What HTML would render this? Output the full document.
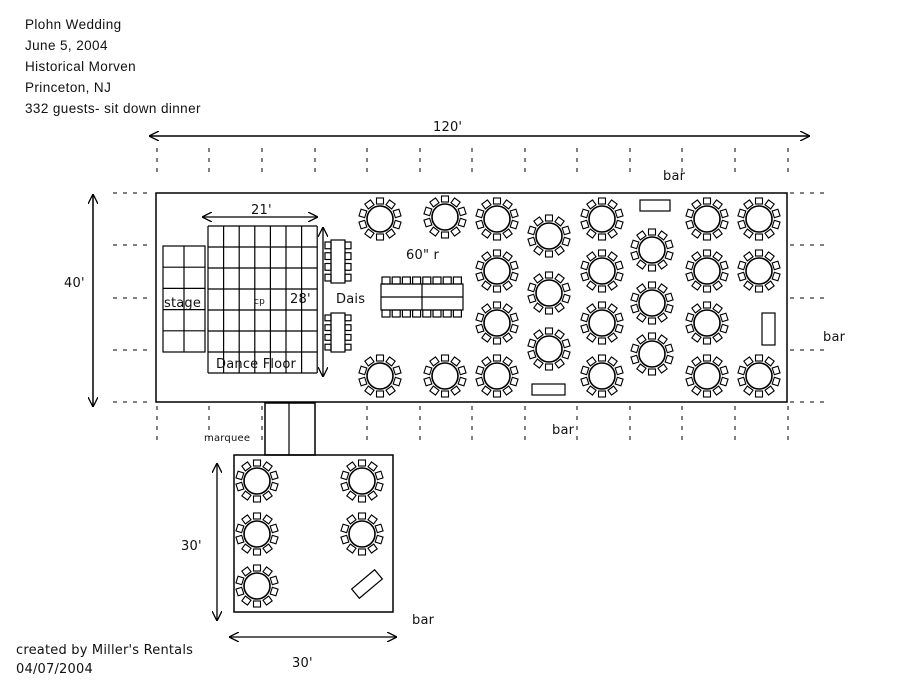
<!DOCTYPE html>
<html><head><meta charset="utf-8"><style>
body{margin:0;background:#fff;}
svg{display:block;font-family:"DejaVu Sans","Liberation Sans",sans-serif;}
text{font-size:13px;fill:#111;letter-spacing:0.2px;}
</style></head><body>
<svg id="s" width="917" height="687" viewBox="0 0 917 687" xmlns="http://www.w3.org/2000/svg">
<defs>
<marker id="ah" viewBox="0 0 10 10" refX="10" refY="5" markerWidth="10" markerHeight="10" orient="auto-start-reverse" markerUnits="userSpaceOnUse"><path d="M0,0 L10,5 L0,10" fill="none" stroke="#000" stroke-width="1.3"/></marker>
</defs>
<g style="font-family:'Liberation Sans',sans-serif">
<text x="25" y="29" style="font-size:13.5px;letter-spacing:0.4px">Plohn Wedding</text>
<text x="25" y="50" style="font-size:13.5px;letter-spacing:0.4px">June 5, 2004</text>
<text x="25" y="71" style="font-size:13.5px;letter-spacing:0.4px">Historical Morven</text>
<text x="25" y="92" style="font-size:13.5px;letter-spacing:0.4px">Princeton, NJ</text>
<text x="25" y="113" style="font-size:13.5px;letter-spacing:0.4px">332 guests- sit down dinner</text>
</g>
<text x="433" y="131">120'</text>
<line x1="149" y1="136" x2="810" y2="136" stroke="#000" stroke-width="1.5" marker-start="url(#ah)" marker-end="url(#ah)"/>
<text x="64" y="287">40'</text>
<line x1="93" y1="194" x2="93" y2="407" stroke="#000" stroke-width="1.5" marker-start="url(#ah)" marker-end="url(#ah)"/>
<g id="dash" stroke="#000" stroke-width="1" stroke-dasharray="4,6" fill="none"></g>
<rect x="156" y="193" width="631" height="209" fill="none" stroke="#000" stroke-width="1.5"/>
<g id="grid" stroke="#000" stroke-width="1.2" fill="none"></g>
<text x="164" y="307">stage</text>
<text x="254" y="304" style="font-size:9px">cp</text>
<text x="290" y="303">28'</text>
<text x="216" y="368">Dance Floor</text>
<text x="251" y="214">21'</text>
<line x1="202" y1="217" x2="318" y2="217" stroke="#000" stroke-width="1.3" marker-start="url(#ah)" marker-end="url(#ah)"/>
<line x1="323" y1="227" x2="323" y2="377" stroke="#000" stroke-width="1.3" marker-start="url(#ah)" marker-end="url(#ah)"/>
<text x="336" y="303">Dais</text>
<text x="406" y="259">60" r</text>
<text x="663" y="180">bar</text>
<text x="823" y="341">bar</text>
<text x="552" y="434">bar</text>
<text x="412" y="624">bar</text>
<rect x="640" y="200" width="30" height="11" fill="none" stroke="#000" stroke-width="1.2"/>
<rect x="532" y="384" width="33" height="11" fill="none" stroke="#000" stroke-width="1.2"/>
<rect x="762" y="313" width="13" height="32" fill="none" stroke="#000" stroke-width="1.2"/>
<rect x="265" y="403" width="50" height="52" fill="none" stroke="#000" stroke-width="1.5"/>
<line x1="289" y1="403" x2="289" y2="455" stroke="#000" stroke-width="1.2"/>
<text x="204" y="441" style="font-size:10px">marquee</text>
<rect x="234" y="455" width="159" height="157" fill="none" stroke="#000" stroke-width="1.5"/>
<rect x="352" y="578" width="30" height="12" fill="none" stroke="#000" stroke-width="1.2" transform="rotate(-40 367 584)"/>
<text x="181" y="550">30'</text>
<line x1="217" y1="463" x2="217" y2="621" stroke="#000" stroke-width="1.3" marker-start="url(#ah)" marker-end="url(#ah)"/>
<text x="292" y="667">30'</text>
<line x1="229" y1="637" x2="397" y2="637" stroke="#000" stroke-width="1.3" marker-start="url(#ah)" marker-end="url(#ah)"/>
<text x="16" y="654">created by Miller's Rentals</text>
<text x="16" y="673">04/07/2004</text>
<g id="tables" stroke="#000" fill="#fff"></g>
</svg>
<script>
var NS="http://www.w3.org/2000/svg";
function el(p,t,a){var e=document.createElementNS(NS,t);for(var k in a)e.setAttribute(k,a[k]);p.appendChild(e);return e;}
var d=document.getElementById('dash');
var xs=[157,209,262,315,367,420,472,525,577,630,682,735,788];
xs.forEach(function(x){el(d,'line',{x1:x,y1:148,x2:x,y2:174});el(d,'line',{x1:x,y1:406,x2:x,y2:446});});
[193,245,298,350,402].forEach(function(y){el(d,'line',{x1:113,y1:y,x2:153,y2:y});el(d,'line',{x1:790,y1:y,x2:826,y2:y});});
var g=document.getElementById('grid');
for(var i=0;i<=7;i++){var x=208+i*15.6;el(g,'line',{x1:x,y1:226,x2:x,y2:373});}
for(var j=0;j<=7;j++){var y=226+j*21;el(g,'line',{x1:208,y1:y,x2:317,y2:y});}
el(g,'rect',{x:163,y:246,width:42,height:106});
el(g,'line',{x1:184,y1:246,x2:184,y2:352});
for(var j=1;j<5;j++){var y=246+j*21.2;el(g,'line',{x1:163,y1:y,x2:205,y2:y});}
[[240,283],[313,352]].forEach(function(r){
 el(g,'rect',{x:331,y:r[0],width:14,height:r[1]-r[0]});
 var n=4,h=(r[1]-r[0])/n;
 for(var k=0;k<n;k++){el(g,'rect',{x:325,y:r[0]+k*h+2,width:6,height:h-4});el(g,'rect',{x:345,y:r[0]+k*h+2,width:6,height:h-4});}
});
el(g,'rect',{x:381,y:284,width:82,height:26});
el(g,'line',{x1:381,y1:297,x2:463,y2:297});
el(g,'line',{x1:422,y1:284,x2:422,y2:310});
for(var k=0;k<8;k++){var x=382+k*10.2;el(g,'rect',{x:x,y:277,width:8,height:7});el(g,'rect',{x:x,y:310,width:8,height:7});}
var T=document.getElementById('tables');
var pts=[[380,219],[380,376],[445,217],[445,376],[497,219],[497,271],[497,323],[497,376],[549,236],[549,293],[549,349],[602,219],[602,271],[602,323],[602,376],[652,250],[652,303],[652,354],[707,219],[707,271],[707,323],[707,376],[759,219],[759,271],[759,376],[257,481],[257,534],[257,586],[362,481],[362,534]];
pts.forEach(function(p){
 var gg=el(T,'g',{transform:'translate('+p[0]+','+p[1]+')'});
 for(var k=0;k<10;k++){var a=k*36;el(gg,'rect',{x:-3.5,y:-21,width:7,height:6,transform:'rotate('+a+')','stroke-width':1.1});}
 el(gg,'circle',{cx:0,cy:0,r:13,'stroke-width':1.6});
});
</script>
</body></html>
